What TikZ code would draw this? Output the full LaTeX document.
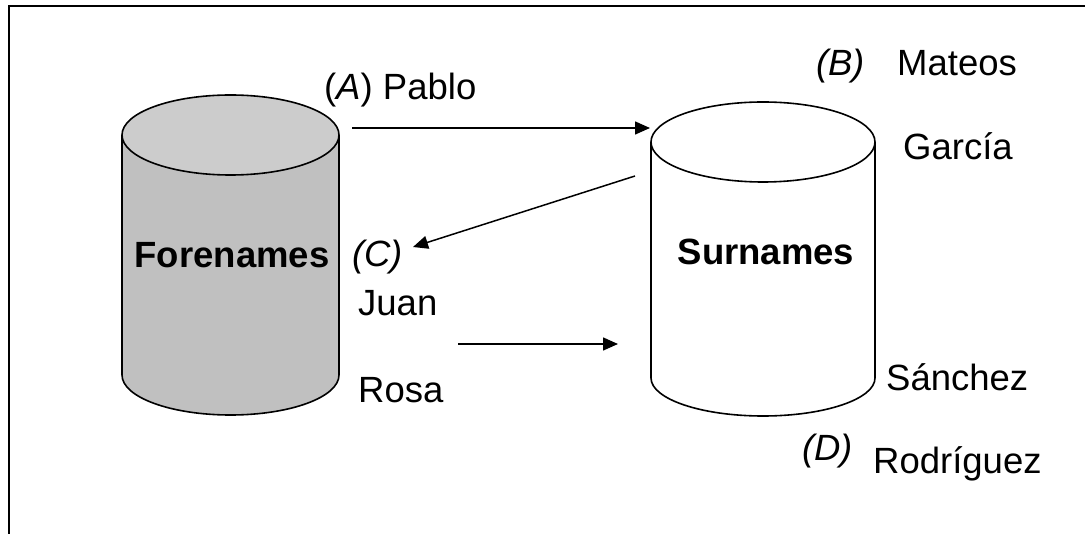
\documentclass[tikz,border=0pt]{standalone}
\usepackage{fontspec}
\setmainfont{Liberation Sans}
\usetikzlibrary{arrows.meta}
\definecolor{cyltop}{HTML}{CCCCCC}
\definecolor{cylbody}{HTML}{C0C0C0}
\begin{document}
\begin{tikzpicture}[x=1pt,y=-1pt,
  lbl/.style={anchor=base west,inner sep=0pt,font=\fontsize{36.5}{44}\selectfont},
  title/.style={anchor=center,inner sep=0pt,font=\fontsize{36.5}{44}\selectfont\bfseries},
  conn/.style={line width=1.5pt,-{Triangle[length=15pt,width=13pt]}},
  cyl/.style={line width=1.6pt}]
\useasboundingbox (0,0) rectangle (1085,534);
% frame (top and left edges)
\draw[line width=2pt] (9,534) -- (9,6) -- (1085,6);
% Forenames cylinder
\fill[cylbody] (122,135) -- (122,375) arc[start angle=180,end angle=360,x radius=108.5,y radius=-40] -- (339,135) -- cycle;
\draw[cyl] (122,135) -- (122,375) arc[start angle=180,end angle=360,x radius=108.5,y radius=-40] -- (339,135);
\draw[cyl,fill=cyltop] (230.5,135) ellipse[x radius=108.5,y radius=40];
\node[title] (fore) at (232,255) {Forenames};
% Surnames cylinder
\fill[white] (651,142) -- (651,378) arc[start angle=180,end angle=360,x radius=112,y radius=-38] -- (875,142) -- cycle;
\draw[cyl] (651,142) -- (651,378) arc[start angle=180,end angle=360,x radius=112,y radius=-38] -- (875,142);
\draw[cyl,fill=white] (763,142) ellipse[x radius=112,y radius=40];
\node[title] (sur) at (766,252) {Surnames};
% labels
\node[lbl] (pablo) at (324,100) {(\textit{A}) Pablo};
\node[lbl] (lblB) at (816,76) {\textit{(B)}};
\node[lbl] (mateos) at (897,76) {Mateos};
\node[lbl] (garcia) at (903,160) {García};
\node[lbl] (lblC) at (352,267) {\textit{(C)}};
\node[lbl] (juan) at (358,316) {Juan};
\node[lbl] (rosa) at (358,403) {Rosa};
\node[lbl] (sanchez) at (886,391) {Sánchez};
\node[lbl] (lblD) at (802,461) {\textit{(D)}};
\node[lbl] (rodriguez) at (873,474) {Rodríguez};
% connectors
\coordinate (a1) at (352,128);
\coordinate (a2) at (650,128);
\coordinate (c1) at (635,176);
\coordinate (c2) at (413,247);
\coordinate (j1) at (458,344);
\coordinate (j2) at (618,344);
\draw[conn] (a1) -- (a2);
\draw[conn] (c1) -- (c2);
\draw[conn] (j1) -- (j2);
\end{tikzpicture}
\end{document}
